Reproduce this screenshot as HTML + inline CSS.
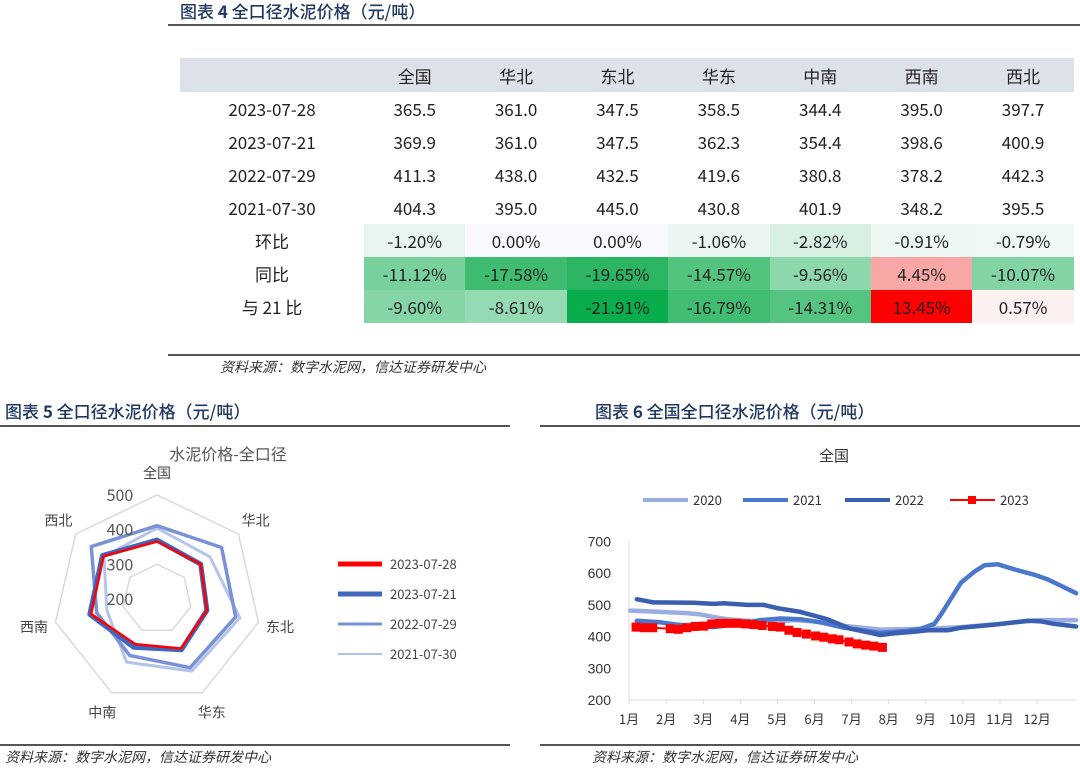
<!DOCTYPE html>
<html><head><meta charset="utf-8"><style>
body{margin:0;width:1080px;height:773px;background:#fff;position:relative;overflow:hidden;font-family:"Noto Sans CJK SC","Liberation Sans",sans-serif;color:#222}
.abs{position:absolute}
.ttl{position:absolute;font-size:17px;color:#1f3864;font-family:"Noto Sans CJK SC",sans-serif;white-space:nowrap;font-weight:500}
.hl{position:absolute;height:2px;background:#555}
.src{position:absolute;font-size:14px;font-style:italic;color:#333;font-family:"Noto Sans CJK SC",sans-serif;white-space:nowrap}
table{position:absolute;left:180px;top:58px;border-collapse:collapse;font-family:"Noto Sans CJK SC","Liberation Sans",sans-serif;font-size:17px}
td{height:33px;padding:0;text-align:center;width:101.4px;line-height:33px}
td.lab{width:184px}
tr.head td{background:#dde1ea;height:34px}
</style></head><body>
<div class="ttl" style="left:180px;top:-2px">图表 <b>4</b> 全口径水泥价格（元/吨）</div>
<div class="hl" style="left:168px;top:24px;width:912px"></div>
<table>
<tr class="head"><td class="lab"></td><td>全国</td><td>华北</td><td>东北</td><td>华东</td><td>中南</td><td>西南</td><td>西北</td></tr>
<tr><td class="lab">2023-07-28</td><td>365.5</td><td>361.0</td><td>347.5</td><td>358.5</td><td>344.4</td><td>395.0</td><td>397.7</td></tr>
<tr><td class="lab">2023-07-21</td><td>369.9</td><td>361.0</td><td>347.5</td><td>362.3</td><td>354.4</td><td>398.6</td><td>400.9</td></tr>
<tr><td class="lab">2022-07-29</td><td>411.3</td><td>438.0</td><td>432.5</td><td>419.6</td><td>380.8</td><td>378.2</td><td>442.3</td></tr>
<tr><td class="lab">2021-07-30</td><td>404.3</td><td>395.0</td><td>445.0</td><td>430.8</td><td>401.9</td><td>348.2</td><td>395.5</td></tr>
<tr><td class="lab">环比</td><td style="background:#e8f5ee">-1.20%</td><td style="background:#f8f8fe">0.00%</td><td style="background:#f8f8fe">0.00%</td><td style="background:#ebf6f0">-1.06%</td><td style="background:#d8f0e2">-2.82%</td><td style="background:#eef7f2">-0.91%</td><td style="background:#f0f8f3">-0.79%</td></tr>
<tr><td class="lab">同比</td><td style="background:#78d09c">-11.12%</td><td style="background:#3fbc70">-17.58%</td><td style="background:#2bb563">-19.65%</td><td style="background:#52c47e">-14.57%</td><td style="background:#8cd8ac">-9.56%</td><td style="background:#f8a6a6">4.45%</td><td style="background:#82d4a4">-10.07%</td></tr>
<tr><td class="lab">与 21 比</td><td style="background:#85d5a6">-9.60%</td><td style="background:#94dab2">-8.61%</td><td style="background:#0aad4c">-21.91%</td><td style="background:#40bd71">-16.79%</td><td style="background:#55c480">-14.31%</td><td style="background:#fe0000">13.45%</td><td style="background:#fcf0f0">0.57%</td></tr>
</table>
<div class="hl" style="left:168px;top:354px;width:912px"></div>
<div class="src" style="left:220px;top:357px">资料来源：数字水泥网，信达证券研发中心</div>

<div class="ttl" style="left:5px;top:398px">图表 <b>5</b> 全口径水泥价格（元/吨）</div>
<div class="hl" style="left:0;top:425px;width:510px"></div>
<div class="ttl" style="left:595px;top:398px">图表 <b>6</b> 全国全口径水泥价格（元/吨）</div>
<div class="hl" style="left:540px;top:425px;width:540px"></div>
<div class="hl" style="left:0;top:744px;width:510px"></div>
<div class="hl" style="left:540px;top:744px;width:540px"></div>
<div class="src" style="left:5px;top:747px">资料来源：数字水泥网，信达证券研发中心</div>
<div class="src" style="left:592px;top:747px">资料来源：数字水泥网，信达证券研发中心</div>

<svg id="radar" class="abs" style="left:0;top:430px" width="510" height="312"></svg>
<svg id="line" class="abs" style="left:540px;top:430px" width="540" height="312"></svg>

<script>
const NS='http://www.w3.org/2000/svg';
function mk(p,t,a){const e=document.createElementNS(NS,t);for(const k in a)e.setAttribute(k,a[k]);p.appendChild(e);return e;}

// ---- radar data ----
const regions=['全国','华北','东北','华东','中南','西南','西北'];
const d20230728=[365.5,361.0,347.5,358.5,344.4,395.0,397.7];
const d20230721=[369.9,361.0,347.5,362.3,354.4,398.6,400.9];
const d20220729=[411.3,438.0,432.5,419.6,380.8,378.2,442.3];
const d20210730=[404.3,395.0,445.0,430.8,401.9,348.2,395.5];
const radarTicks=[200,300,400,500];
const radarRings=[300,500];

const R=document.getElementById('radar');
const cx=157,cy=169;
function rr(v){return (v-200)*0.347;}
function pt(i,v){const a=-Math.PI/2+i*2*Math.PI/7;return [cx+rr(v)*Math.cos(a),cy+rr(v)*Math.sin(a)];}
let t=mk(R,'text',{x:228,y:30,'text-anchor':'middle','font-size':'16','fill':'#555'});t.textContent='水泥价格-全口径';

radarRings.forEach(v=>{
  const g=mk(R,'polygon',{points:regions.map((_,i)=>pt(i,v).join(',')).join(' '),fill:'none',stroke:'#d9d9d9','stroke-width':1.5});
  
  
});
regions.forEach((n,i)=>{
  const a=-Math.PI/2+i*2*Math.PI/7, r=rr(500)+22;
  const l=mk(R,'text',{x:cx+r*Math.cos(a),y:cy+r*Math.sin(a)+5,'text-anchor':'middle','font-size':'14',fill:'#444'});l.textContent=n;
  
  
});
const rseries=[['2021-07-30',d20210730,'#b4c4ea',3],['2022-07-29',d20220729,'#7891d8',3.5],['2023-07-21',d20230721,'#3f66bd',5],['2023-07-28',d20230728,'#ff0000',2.5]];
rseries.forEach(([n,d,c,w])=>{
  const p=mk(R,'polygon',{points:d.map((v,i)=>pt(i,v).join(',')).join(' '),fill:'none',stroke:c,'stroke-width':w,'stroke-linejoin':'round'});
  
  
});
radarTicks.forEach(v=>{
  const l=mk(R,'text',{x:cx-37,y:cy-rr(v)+6,'text-anchor':'middle','font-size':'16',fill:'#555'});l.textContent=v;
  
  
});
[['2023-07-28','#ff0000',5],['2023-07-21','#3f66bd',5],['2022-07-29','#7891d8',3],['2021-07-30','#b4c4ea',2]].forEach(([n,c,w],i)=>{
  const y=134+i*30;
  const ln=mk(R,'line',{x1:338,x2:382,y1:y,y2:y,stroke:c,'stroke-width':w});
  
  
  const tx=mk(R,'text',{x:390,y:y+5,'font-size':'13',fill:'#444'});tx.textContent=n;
  
  
});

// ---- line data (x = month offset from Jan) ----
const monthLabels=['1月','2月','3月','4月','5月','6月','7月','8月','9月','10月','11月','12月'];
const yTicks=[200,300,400,500,600,700];
const x2020=[0.03,0.84,1.56,1.92,2.28,2.64,3.18,3.9,4.44,4.98,5.7,6.78,8.05,8.95,10.03,11.02,12.05];
const y2020=[482,478,474,470,462,455,450,448,452,448,435,422,425,430,440,452,452];
const x2021=[0.21,0.84,1.29,1.92,2.28,3.0,3.54,4.08,4.62,5.16,5.79,6.78,7.5,7.86,8.23,8.41,8.68,8.95,9.31,9.58,9.94,10.39,10.93,11.29,11.65,12.05];
const y2021=[450,445,438,432,430,440,452,457,455,445,428,412,418,425,440,470,520,570,605,625,628,612,595,580,560,537];
const x2022=[0.21,0.66,1.74,2.28,2.55,3.18,3.63,3.99,4.62,5.34,5.97,6.78,7.14,7.68,8.05,8.59,8.95,9.85,10.75,11.11,11.47,12.05];
const y2022=[518,508,507,503,505,500,500,490,478,455,425,405,410,415,420,420,428,438,450,448,440,432];
const x2023=[0.19,0.41,0.64,1.11,1.33,1.56,1.78,2.01,2.23,2.46,2.68,2.91,3.14,3.36,3.59,3.86,4.08,4.31,4.53,4.78,5.03,5.25,5.48,5.66,5.93,6.15,6.38,6.6,6.83];
const y2023=[430,428,428,425,423,428,432,433,440,442,442,442,440,438,435,432,430,420,413,408,402,398,393,390,383,377,373,370,366];

const L=document.getElementById('line');
const X0=89,XW=37.1,Y0=270,YK=0.317;
function xs(m){return X0+m*XW;}
function ys(v){return Y0-(v-200)*YK;}
t=mk(L,'text',{x:294,y:31,'text-anchor':'middle','font-size':'15',fill:'#333'});t.textContent='全国';

let ax=mk(L,'line',{x1:X0,x2:X0,y1:ys(700),y2:ys(200),stroke:'#d9d9d9','stroke-width':1});

ax=mk(L,'line',{x1:X0,x2:xs(12.05),y1:ys(200),y2:ys(200),stroke:'#d9d9d9','stroke-width':1});

yTicks.forEach(v=>{
  const l=mk(L,'text',{x:X0-18,y:ys(v)+5,'text-anchor':'end','font-size':'14',fill:'#333','font-family':'Liberation Sans'});l.textContent=v;
  
  
});
monthLabels.forEach((m,i)=>{
  const tk=mk(L,'line',{x1:xs(i),x2:xs(i),y1:ys(200),y2:ys(200)+4,stroke:'#d9d9d9'});
  
  
  const l=mk(L,'text',{x:xs(i),y:ys(200)+24,'text-anchor':'middle','font-size':'13',fill:'#333'});l.textContent=m;
  
  
});
function path(xa,ya){return xa.map((x,i)=>(i?'L':'M')+xs(x).toFixed(1)+','+ys(ya[i]).toFixed(1)).join(' ');}
[['2020',x2020,y2020,'#9aade0'],['2021',x2021,y2021,'#4a78cc'],['2022',x2022,y2022,'#3a5fb0']].forEach(([n,xa,ya,c])=>{
  const p=mk(L,'path',{d:path(xa,ya),fill:'none',stroke:c,'stroke-width':4.5,'stroke-linejoin':'round','stroke-linecap':'round'});
  
  
});
const p23=mk(L,'path',{d:path(x2023,y2023),fill:'none',stroke:'#ff0000','stroke-width':2});


x2023.forEach((x,i)=>{
  const r=mk(L,'rect',{x:xs(x)-4.5,y:ys(y2023[i])-4.5,width:9,height:9,fill:'#ff0000'});
  
  
});
[['2020','#9aade0',103],['2021','#4a78cc',203],['2022','#3a5fb0',305],['2023','#ff0000',410]].forEach(([n,c,x])=>{
  const ln=mk(L,'line',{x1:x,x2:x+45,y1:70,y2:70,stroke:c,'stroke-width':n==='2023'?2:4});
  
  
  if(n==='2023'){const r=mk(L,'rect',{x:x+18,y:66,width:8,height:8,fill:c});}
  const tx=mk(L,'text',{x:x+50,y:75,'font-size':'13',fill:'#333'});tx.textContent=n;
  
  
});
</script>
</body></html>
